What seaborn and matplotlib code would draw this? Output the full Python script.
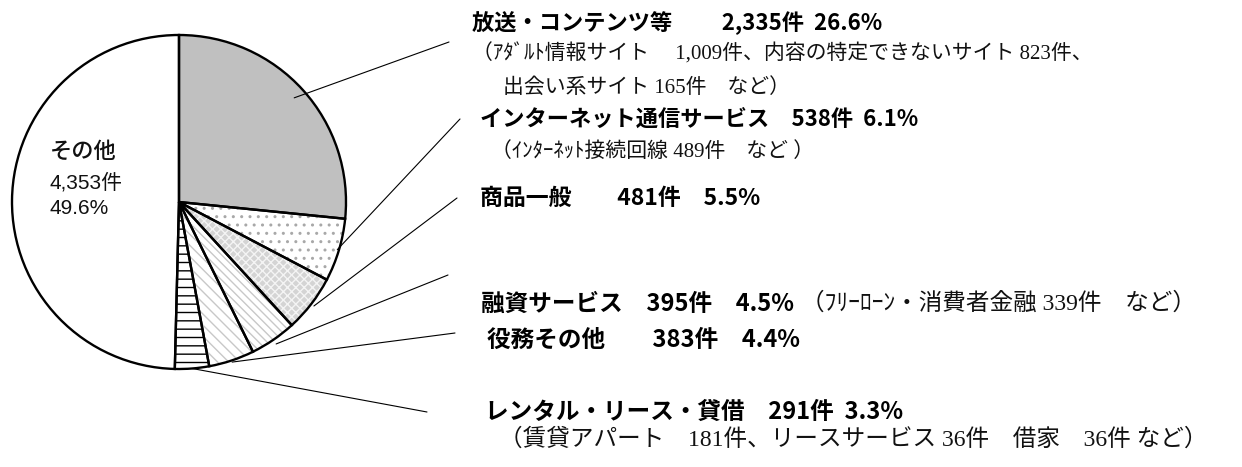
import numpy as np
import matplotlib
matplotlib.use("Agg")
import matplotlib.pyplot as plt
import seaborn as sns

# ---------------- data ----------------
categories = ["放送・コンテンツ等", "インターネット通信サービス", "商品一般",
              "融資サービス", "役務その他", "レンタル・リース・貸借", "その他"]
counts = [2335, 538, 481, 395, 383, 291, 4353]
percents = [26.6, 6.1, 5.5, 4.5, 4.4, 3.3, 49.6]
detail_lines = [
    ["（ｱﾀﾞﾙﾄ情報サイト　 1,009件、内容の特定できないサイト 823件、",
     "出会い系サイト 165件　など）"],
    ["（ｲﾝﾀｰﾈｯﾄ接続回線 489件　など ）"],
    [],
    ["（ﾌﾘｰﾛｰﾝ・消費者金融 339件　など）"],
    [],
    ["（賃貸アパート　181件、リースサービス 36件　借家　36件 など）"],
]

# ---------------- style ----------------
sns.set_theme(style="white")
plt.rcParams['font.family'] = ['Noto Sans CJK JP', 'DejaVu Sans']
plt.rcParams['hatch.linewidth'] = 1.0
MAIN_FONT = ['Noto Sans CJK JP', 'DejaVu Sans']
SUB_FONT = ['Liberation Serif', 'Noto Sans CJK JP', 'DejaVu Sans']
IN_FONT = ['Liberation Sans', 'Noto Sans CJK JP', 'DejaVu Sans']

W, H = 1242, 467
fig = plt.figure(figsize=(W / 100, H / 100), dpi=100)
ax = fig.add_axes([0, 0, 1, 1])

def Y(y):
    return H - y

center = (179, Y(202))
radius = 167

faces = ["#c0c0c0", "white", "#d4d4d4", "white", "white", "white", "white"]
hatches = [None, "..", "xxxx", "\\\\\\\\", "\\\\\\", "--", None]
hatch_cols = ["#c0c0c0", "#a8a8a8", "#f4f4f4", "#c8c8c8", "#c8c8c8", "black", "white"]

# fill + hatch layer
wedges, _ = ax.pie(percents, center=center, radius=radius, startangle=90,
                   counterclock=False, frame=True,
                   wedgeprops=dict(linewidth=0))
for w, fc, hc, hcol in zip(wedges, faces, hatches, hatch_cols):
    w.set_facecolor(fc)
    w.set_edgecolor(hcol)
    if hc:
        w.set_hatch(hc)

# outline layer
edges, _ = ax.pie(percents, center=center, radius=radius, startangle=90,
                  counterclock=False, frame=True,
                  wedgeprops=dict(linewidth=1.7, edgecolor="black", fill=False))

ax.set_xlim(0, W)
ax.set_ylim(0, H)
ax.set_aspect('auto')
ax.axis('off')

# ---------------- labels ----------------
gaps = [("　　 ", "  "), ("　", "  "), ("　　", "　"), ("　", "　"), ("　　", "　"), ("　", "  ")]
main_size = [16, 16, 16.5, 17, 17, 17]
sub_size = [15, 15, 15, 17, 15, 17]
main_pos = [(472, 23), (480, 119), (480, 198), (481, 304), (487, 340), (485, 412)]
detail_pos = [[(472, 54), (503, 88)], [(491, 152)], [], [(801, 304)], [], [(499, 439)]]
leader_r = [0.93, 0.99, 1.02, 1.03, 1.01, 1.0]
leader_end = [(449, 42), (460, 119), (457, 198), (448, 275), (455, 333), (427, 412)]

for i in range(6):
    g1, g2 = gaps[i]
    txt = f"{categories[i]}{g1}{counts[i]:,}件{g2}{percents[i]}%"
    ax.text(main_pos[i][0], Y(main_pos[i][1]), txt, ha='left', va='center',
            fontsize=main_size[i], fontweight='bold', color='black', family=MAIN_FONT)
    for line, (x, y) in zip(detail_lines[i], detail_pos[i]):
        ax.text(x, Y(y), line, ha='left', va='center', fontsize=sub_size[i],
                color='#111111', family=SUB_FONT)
    w = wedges[i]
    mid = np.deg2rad((w.theta1 + w.theta2) / 2)
    sx = center[0] + leader_r[i] * radius * np.cos(mid)
    sy = center[1] + leader_r[i] * radius * np.sin(mid)
    ex, ey = leader_end[i]
    ax.plot([sx, ex], [sy, Y(ey)], color='black', lw=0.8)

# label inside the big slice
ax.text(50, Y(152), categories[6], ha='left', va='center', fontsize=16,
        fontweight='medium', color='#111111', family=IN_FONT)
ax.text(50, Y(183), f"{counts[6]:,}件", ha='left', va='center', fontsize=15,
        color='#111111', family=IN_FONT)
ax.text(50, Y(208), f"{percents[6]}%", ha='left', va='center', fontsize=15,
        color='#111111', family=IN_FONT)

fig.savefig("out.png", dpi=100)
